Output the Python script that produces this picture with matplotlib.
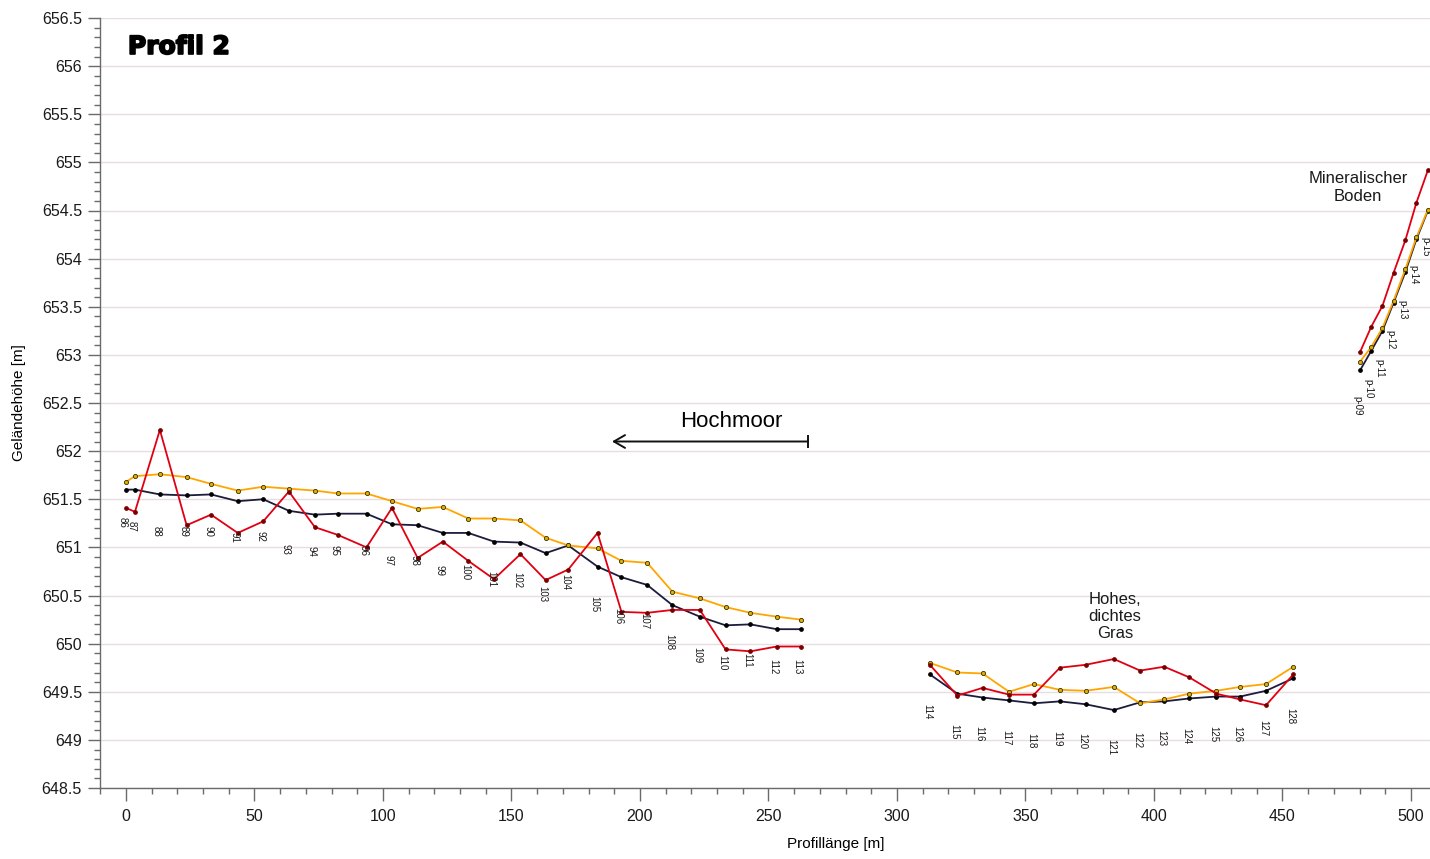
import numpy as np
import matplotlib
matplotlib.use("Agg")
import matplotlib.pyplot as plt
import matplotlib.patheffects as pe
import matplotlib.transforms as mtransforms
from matplotlib.ticker import MultipleLocator, FormatStrFormatter

# ---------------- data ----------------
# section 1: points 86..113 (Hochmoor)
x1 = [0, 3.5, 13.2, 23.6, 33.1, 43.5, 53.4, 63.4, 73.5, 82.4, 93.6, 103.5, 113.5,
      123.3, 133.2, 143.2, 153.5, 163.3, 172.1, 183.5, 192.8, 202.8, 212.6, 223.3,
      233.3, 243.0, 253.2, 262.5]
orange1 = [651.68, 651.74, 651.76, 651.73, 651.66, 651.59, 651.63, 651.61, 651.59,
           651.56, 651.56, 651.48, 651.40, 651.42, 651.30, 651.30, 651.28, 651.10,
           651.02, 650.99, 650.86, 650.84, 650.54, 650.47, 650.38, 650.32, 650.28, 650.25]
navy1 = [651.60, 651.60, 651.55, 651.54, 651.55, 651.48, 651.50, 651.38, 651.34,
         651.35, 651.35, 651.24, 651.23, 651.15, 651.15, 651.06, 651.05, 650.94,
         651.02, 650.80, 650.69, 650.61, 650.40, 650.28, 650.19, 650.20, 650.15, 650.15]
red1 = [651.41, 651.37, 652.22, 651.23, 651.34, 651.15, 651.27, 651.58, 651.21,
        651.13, 651.00, 651.41, 650.89, 651.06, 650.86, 650.67, 650.93, 650.66,
        650.77, 651.15, 650.33, 650.32, 650.35, 650.35, 649.94, 649.92, 649.97, 649.97]
labels1 = [str(n) for n in range(86, 114)]
label_y1 = [651.32, 651.27, 651.22, 651.22, 651.22, 651.16, 651.17, 651.04, 651.01,
            651.02, 651.02, 650.92, 650.92, 650.82, 650.83, 650.75, 650.74, 650.60,
            650.72, 650.50, 650.37, 650.32, 650.10, 649.97, 649.88, 649.90, 649.84, 649.84]

# section 2: points 114..128 (Hohes, dichtes Gras)
x2 = [312.8, 323.5, 333.3, 343.6, 353.3, 363.4, 373.4, 384.4, 394.6, 404.0, 413.7,
      424.3, 433.5, 443.6, 454.2]
orange2 = [649.80, 649.70, 649.69, 649.50, 649.58, 649.52, 649.51, 649.55, 649.38,
           649.42, 649.48, 649.51, 649.55, 649.58, 649.76]
navy2 = [649.68, 649.48, 649.44, 649.41, 649.38, 649.40, 649.37, 649.31, 649.39,
         649.40, 649.43, 649.45, 649.45, 649.51, 649.64]
red2 = [649.78, 649.46, 649.54, 649.47, 649.47, 649.75, 649.78, 649.84, 649.72,
        649.76, 649.65, 649.48, 649.42, 649.36, 649.68]
labels2 = [str(n) for n in range(114, 129)]
label_y2 = [649.37, 649.17, 649.14, 649.10, 649.07, 649.09, 649.07, 649.01, 649.08,
            649.10, 649.12, 649.14, 649.14, 649.21, 649.33]

# section 3: points p-09..p-15 (Mineralischer Boden)
x3 = [480.2, 484.5, 488.9, 493.2, 497.8, 502.1, 506.6]
orange3 = [652.93, 653.08, 653.28, 653.56, 653.89, 654.22, 654.51]
navy3 = [652.84, 653.04, 653.25, 653.54, 653.86, 654.20, 654.50]
red3 = [653.03, 653.29, 653.51, 653.85, 654.19, 654.58, 654.92]
labels3 = ["p-09", "p-10", "p-11", "p-12", "p-13", "p-14", "p-15"]
label_y3 = [652.57, 652.75, 652.96, 653.26, 653.57, 653.93, 654.22]

# ---------------- figure ----------------
plt.rcParams['font.family'] = ['Liberation Sans', 'DejaVu Sans']

fig = plt.figure(figsize=(14.3, 8.59), dpi=100)
ax = fig.add_axes([100 / 1430, 1 - 788 / 859, 1330 / 1430, 770 / 859])

ax.set_xlim(-10.1, 507.4)
ax.set_ylim(648.5, 656.5)

ax.xaxis.set_major_locator(MultipleLocator(50))
ax.xaxis.set_minor_locator(MultipleLocator(10))
ax.yaxis.set_major_locator(MultipleLocator(0.5))
ax.yaxis.set_minor_locator(MultipleLocator(0.1))
ax.yaxis.set_major_formatter(FormatStrFormatter('%g'))

ax.grid(axis='y', which='major', color='#e6dde1', lw=1.0, zorder=0)
ax.set_axisbelow(True)

for s in ['top', 'right']:
    ax.spines[s].set_visible(False)
for s in ['left', 'bottom']:
    ax.spines[s].set_color('#6a6a6a')
    ax.spines[s].set_linewidth(1.0)

ax.tick_params(which='major', direction='out', length=9, width=1.0, color='#6a6a6a',
               labelsize=11.5, labelcolor='#1a1a1a')
ax.tick_params(which='minor', direction='out', length=4.5, width=1.0, color='#6a6a6a')
ax.tick_params(axis='x', which='major', pad=6)
ax.tick_params(axis='y', which='major', pad=4)

navy_c = '#1c1c3c'
orange_c = '#ffa500'
red_c = '#e00012'

for xs, nv, org, rd in [(x1, navy1, orange1, red1), (x2, navy2, orange2, red2),
                        (x3, navy3, orange3, red3)]:
    ax.plot(xs, nv, color=navy_c, lw=1.3, marker='o', ms=2.4, mfc='#000000',
            mec='#000000', zorder=3)
    ax.plot(xs, org, color=orange_c, lw=1.3, marker='o', ms=3.0, mfc='#e0b000',
            mec='#3a3000', mew=0.6, zorder=4)
    ax.plot(xs, rd, color=red_c, lw=1.3, marker='o', ms=2.4, mfc='#7a0000',
            mec='#7a0000', zorder=5)

lab_trans = mtransforms.offset_copy(ax.transData, fig=fig, x=-3, y=0, units='dots')
for xs, labs, ly in [(x1, labels1, label_y1), (x2, labels2, label_y2),
                     (x3, labels3, label_y3)]:
    for xv, lab, yv in zip(xs, labs, ly):
        ax.text(xv, yv, lab, rotation=-90, fontsize=7, ha='center', va='top',
                color='#1a1a1a', zorder=6, transform=lab_trans)

ax.set_ylabel('Geländehöhe [m]', fontsize=11, labelpad=11)
ax.set_xlabel('Profillänge [m]', fontsize=11)
ax.xaxis.set_label_coords((836 - 100) / 1330, -0.063)

ax.text(0.021, 0.978, 'Profil 2', transform=ax.transAxes, fontsize=18,
        fontweight='bold', family='DejaVu Sans', ha='left', va='top',
        path_effects=[pe.withStroke(linewidth=1.3, foreground='black')])

ax.text(235.4, 652.31, 'Hochmoor', fontsize=16, ha='center', va='center')
ax.annotate('', xy=(189.1, 652.1), xytext=(265.4, 652.1),
            arrowprops=dict(arrowstyle='->, head_length=0.4, head_width=0.23',
                            lw=1.4, color='#111111', mutation_scale=20,
                            shrinkA=0, shrinkB=0))
ax.plot([265.4, 265.4], [652.045, 652.16], color='#111111', lw=1.4)

ax.text(384.8, 650.28, 'Hohes,\ndichtes\nGras', fontsize=12, ha='center',
        va='center', linespacing=1.15, color='#1a1a1a')
ax.text(479.4, 654.74, 'Mineralischer\nBoden', fontsize=12, ha='center',
        va='center', linespacing=1.2, color='#1a1a1a')

fig.savefig('out.png', dpi=100, facecolor='white')
